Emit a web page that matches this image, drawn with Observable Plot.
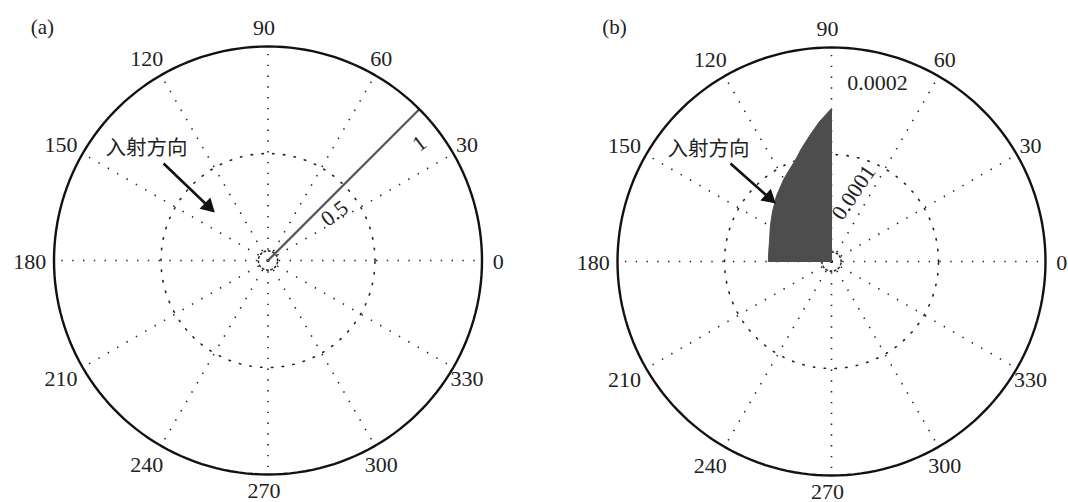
<!DOCTYPE html>
<html><head><meta charset="utf-8">
<script src="https://cdn.jsdelivr.net/npm/d3@7"></script>
<script src="https://cdn.jsdelivr.net/npm/@observablehq/plot@0.6"></script>
<style>
body{margin:0;background:#fff}
#wrap{display:flex;width:1068px;height:502px}
#wrap svg{overflow:visible}
</style>
</head><body><div id="wrap"></div>
<script>
// ---- data ----
const angleTicks = [0, 30, 60, 90, 120, 150, 180, 210, 240, 270, 300, 330];
const angleTickLabels = ["0", "30", "60", "90", "120", "150", "180", "210", "240", "270", "300", "330"];
// panel (a)
const aRMax = 1;
const aGridRadii = [0.045, 0.5];
const aRLabels = ["0.5", "1"];
const aLineTheta = [45, 45];
const aLineR = [0, 1];
// panel (b)
const bRMax = 0.0002;
const bGridRadii = [0.000009, 0.0001];
const bRLabels = ["0.0001", "0.0002"];
const bTheta = [90, 95, 100, 105, 110, 115, 120, 125, 130, 140, 150, 160, 170, 180];
const bR = [1.43e-4, 1.31e-4, 1.19e-4, 1.09e-4, 1.00e-4, 9.4e-5, 8.9e-5, 8.4e-5, 8.0e-5, 7.2e-5, 6.6e-5, 6.15e-5, 5.95e-5, 5.9e-5];
const annotationText = "入射方向";

// ---- helpers ----
const rad = d => d * Math.PI / 180;
const P = (theta, r) => ({x: r * Math.cos(rad(theta)), y: r * Math.sin(rad(theta))});
const circle = (r) => d3.range(0, 361, 2).map(t => P(t, r));
const SERIF = "Liberation Serif, DejaVu Serif, serif";
const CJK = "Noto Sans CJK SC, sans-serif";

function polarPanel(cfg) {
  const {rmax, gridRadii, rLabels, rLabelPos, tag, tagPos, arrow, textPos, margins, extraMarks} = cfg;
  const norm = r => r / rmax;
  const marks = [];
  // dotted spokes
  const spokes = angleTicks.map(t => { const p = P(t, 1); return {x1: 0, y1: 0, x2: p.x, y2: p.y}; });
  marks.push(Plot.link(spokes, {x1: "x1", y1: "y1", x2: "x2", y2: "y2", stroke: "#222", strokeWidth: 1.6, strokeDasharray: "1.4,9.4", strokeLinecap: "butt"}));
  // dotted circles
  gridRadii.forEach(r => {
    marks.push(Plot.line(circle(norm(r)), {x: "x", y: "y", stroke: "#222", strokeWidth: 1.6, strokeDasharray: norm(r) < 0.1 ? "1.4,3" : "1.4,9.4"}));
  });
  marks.push(...extraMarks(norm));
  // outer circle
  marks.push(Plot.line(circle(1), {x: "x", y: "y", stroke: "#111", strokeWidth: 2.4}));
  // angle labels (bottom label pulled in slightly so it stays inside the page)
  marks.push(Plot.text(angleTicks.map((t, i) => ({...P(t, t === 270 ? 1.07 : 1.095), label: angleTickLabels[i]})), {
    x: "x", y: "y", dx: -4, dy: 1.5, text: "label", fontSize: 22, fontFamily: SERIF, fill: "#222", textAnchor: "middle", lineAnchor: "middle"
  }));
  // radial labels
  marks.push(Plot.text(rLabelPos.map((p, i) => ({...p, label: rLabels[i]})), {
    x: "x", y: "y", text: "label", rotate: d => d.rot, fontSize: 22, fontFamily: SERIF, fill: "#222", textAnchor: "middle", lineAnchor: "middle"
  }));
  // panel tag
  marks.push(Plot.text([{...tagPos, label: tag}], {x: "x", y: "y", text: "label", fontSize: 21, fontFamily: SERIF, fill: "#222", textAnchor: "middle", lineAnchor: "middle"}));
  // annotation text
  marks.push(Plot.text([{...textPos, label: annotationText}], {x: "x", y: "y", text: "label", fontSize: 20.5, fontFamily: CJK, fill: "#222", textAnchor: "middle", lineAnchor: "middle"}));
  // arrow: shaft + filled head
  const rotDeg = Math.atan2(arrow.x2 - arrow.x1, arrow.y2 - arrow.y1) * 180 / Math.PI;
  const len = Math.hypot(arrow.x2 - arrow.x1, arrow.y2 - arrow.y1);
  const ux = (arrow.x2 - arrow.x1) / len, uy = (arrow.y2 - arrow.y1) / len;
  const back = 0.03;
  marks.push(Plot.link([arrow], {x1: "x1", y1: "y1", x2: d => d.x2 - ux * back, y2: d => d.y2 - uy * back, stroke: "#111", strokeWidth: 2.6}));
  marks.push(Plot.dot([{x: arrow.x2 - ux * 0.028, y: arrow.y2 - uy * 0.028}], {x: "x", y: "y", symbol: "triangle2", r: 7.5, fill: "#111", stroke: "none", rotate: rotDeg}));

  return Plot.plot({
    width: 534, height: 502,
    marginLeft: margins[0], marginRight: margins[1], marginTop: margins[2], marginBottom: margins[3],
    x: {domain: [-1, 1], axis: null},
    y: {domain: [-1, 1], axis: null},
    style: {background: "transparent", overflow: "visible"},
    marks
  });
}

const wrap = document.getElementById("wrap");

wrap.appendChild(polarPanel({
  rmax: aRMax, gridRadii: aGridRadii, rLabels: aRLabels,
  rLabelPos: [{x: 0.311, y: 0.22, rot: -37}, {x: 0.708, y: 0.547, rot: -37}],
  tag: "(a)", tagPos: {x: -1.054, y: 1.089},
  arrow: {x1: -0.488, y1: 0.453, x2: -0.259, y2: 0.234},
  textPos: {x: -0.568, y: 0.523},
  margins: [53.5, 52.5, 46, 28],
  extraMarks: (norm) => [
    Plot.line(aLineTheta.map((t, i) => P(t, norm(aLineR[i]))), {x: "x", y: "y", stroke: "#555", strokeWidth: 2.2})
  ]
}));

wrap.appendChild(polarPanel({
  rmax: bRMax, gridRadii: bGridRadii, rLabels: bRLabels,
  rLabelPos: [{x: 0.103, y: 0.322, rot: -56}, {x: 0.215, y: 0.836, rot: 0}],
  tag: "(b)", tagPos: {x: -1.014, y: 1.093},
  arrow: {x1: -0.472, y1: 0.458, x2: -0.271, y2: 0.28},
  textPos: {x: -0.575, y: 0.523},
  margins: [83, 23, 47, 27],
  extraMarks: (norm) => {
    const poly = [{x: 0, y: 0}, ...bTheta.map((t, i) => P(t, norm(bR[i]))), {x: 0, y: 0}];
    return [Plot.line(poly, {x: "x", y: "y", fill: "#4d4d4d", stroke: "#4d4d4d", strokeWidth: 1, strokeLinejoin: "round"})];
  }
}));
</script>
</body></html>
